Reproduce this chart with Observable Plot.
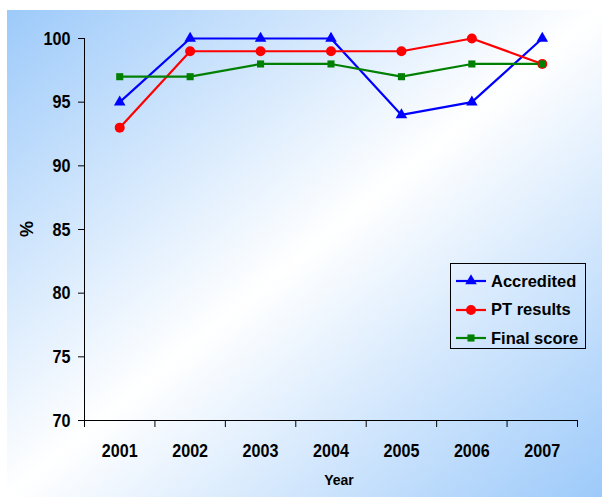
<!DOCTYPE html>
<html>
<head>
<meta charset="utf-8">
<script src="https://cdn.jsdelivr.net/npm/d3@7"></script>
<script src="https://cdn.jsdelivr.net/npm/@observablehq/plot@0.6"></script>
<style>
  html, body { margin: 0; padding: 0; background: #fff; }
  #wrap { position: relative; width: 602px; height: 497px; overflow: hidden; background: #fff; font-family: "Liberation Sans", Arial, sans-serif; }
  #bg { position: absolute; left: 7px; top: 10px; right: 0; bottom: 0;
        background: linear-gradient(to bottom right, rgb(157,202,250) 0%, #ffffff 50%, rgb(157,202,250) 100%); }
  #chart { position: absolute; left: 0; top: 0; }
  #chart svg { background: transparent !important; }
  .lbl { position: absolute; font-weight: bold; color: #000; white-space: nowrap; }
  #legend { position: absolute; left: 450px; top: 263px; width: 134px; height: 84px; border: 1px solid #000; }
  .row { position: absolute; left: 4px; height: 20px; display: flex; align-items: center; }
  .row span { font-weight: bold; font-size: 16.5px; margin-left: 4px; color: #000; }
</style>
</head>
<body>
<div id="wrap">
  <div id="bg"></div>
  <div id="chart"></div>
</div>
<script>
const years = [2001, 2002, 2003, 2004, 2005, 2006, 2007];
const seriesNames = ["Accredited", "PT results", "Final score"];
const accredited = [95, 100, 100, 100, 94, 95, 100];
const ptResults = [93, 99, 99, 99, 99, 100, 98];
const finalScore = [97, 97, 98, 98, 97, 98, 98];
const yTicks = [70, 75, 80, 85, 90, 95, 100];
const colors = ["#0000ff", "#ff0000", "#008000"];
const symbols = ["triangle", "circle", "square"];
const radii = [4.3, 5, 4];

const valuesBySeries = [accredited, ptResults, finalScore];
const data = [];
seriesNames.forEach((s, si) => years.forEach((yr, i) => data.push({series: s, year: yr, value: valuesBySeries[si][i]})));
const boundaries = [years[0] - 0.5, ...years.map(y => y + 0.5)];

const tickFont = "'Liberation Sans', Arial, sans-serif";

const marks = [
  Plot.ruleX([boundaries[0]], {stroke: "#000", strokeWidth: 1}),
  Plot.ruleY([yTicks[0]], {stroke: "#000", strokeWidth: 1}),
  Plot.axisY({ticks: yTicks, tickSize: 6, tickPadding: 8, tickFormat: d => String(d), label: null,
              fontSize: 19, fontWeight: "bold", fontFamily: tickFont, stroke: "#000", fill: "#000"}),
  Plot.axisX({ticks: boundaries, tickSize: 7, tickFormat: () => "", label: null, stroke: "#000"}),
  Plot.axisX({ticks: years, tickSize: 0, tickPadding: 23, tickFormat: d => String(d), label: null,
              fontSize: 19, fontWeight: "bold", fontFamily: tickFont, fill: "#000"}),
];
seriesNames.forEach((s, si) => {
  const d = data.filter(r => r.series === s);
  marks.push(Plot.line(d, {x: "year", y: "value", stroke: colors[si], strokeWidth: 2.2}));
});
seriesNames.forEach((s, si) => {
  const d = data.filter(r => r.series === s);
  marks.push(Plot.dot(d, {x: "year", y: "value", symbol: symbols[si], r: radii[si], fill: colors[si], stroke: "none"}));
});

const chart = Plot.plot({
  width: 602,
  height: 497,
  marginLeft: 84,
  marginRight: 25,
  marginTop: 38,
  marginBottom: 77,
  style: {background: "transparent", color: "#000", overflow: "visible"},
  x: {type: "linear", domain: [boundaries[0], boundaries[boundaries.length - 1]], axis: null},
  y: {type: "linear", domain: [yTicks[0], yTicks[yTicks.length - 1]], axis: null},
  marks
});
// condense tick labels horizontally (reference uses a narrow face)
d3.select(chart).selectAll("g[aria-label$='tick label'] text").each(function() {
  const t = this.getAttribute("transform") || "";
  this.setAttribute("transform", t + " scale(0.85,1)");
});
document.getElementById("chart").appendChild(chart);

const wrap = document.getElementById("wrap");
const yl = document.createElement("div");
yl.className = "lbl";
yl.textContent = "%";
yl.style.cssText += "font-size:18px;left:27px;top:229px;transform:translate(-50%,-50%) rotate(-90deg);";
wrap.appendChild(yl);
const xl = document.createElement("div");
xl.className = "lbl";
xl.textContent = "Year";
xl.style.cssText += "font-size:14px;left:339px;top:480px;transform:translate(-50%,-50%);";
wrap.appendChild(xl);

const legend = document.createElement("div");
legend.id = "legend";
seriesNames.forEach((s, si) => {
  const row = document.createElement("div");
  row.className = "row";
  row.style.top = (7 + si * 28.5) + "px";
  const svg = d3.create("svg").attr("width", 32).attr("height", 20);
  svg.append("line").attr("x1", 1).attr("x2", 31).attr("y1", 10).attr("y2", 10)
    .attr("stroke", colors[si]).attr("stroke-width", 2.2);
  const sym = {triangle: d3.symbolTriangle, circle: d3.symbolCircle, square: d3.symbolSquare}[symbols[si]];
  const size = si === 1 ? Math.PI * 25 : Math.PI * radii[si] * radii[si];
  svg.append("path").attr("d", d3.symbol(sym, size)()).attr("transform", "translate(16,10)").attr("fill", colors[si]);
  row.appendChild(svg.node());
  const t = document.createElement("span");
  t.textContent = s;
  row.appendChild(t);
  legend.appendChild(row);
});
wrap.appendChild(legend);
</script>
</body>
</html>
